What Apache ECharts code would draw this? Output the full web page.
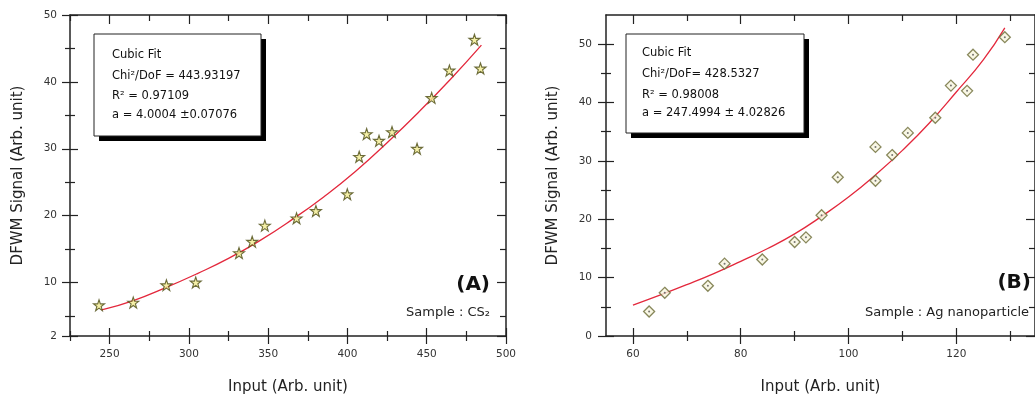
<!DOCTYPE html>
<html><head><meta charset="utf-8">
<script src="https://cdn.jsdelivr.net/npm/echarts@6/dist/echarts.min.js"></script>
<style>html,body{margin:0;padding:0;background:#fff}#c{width:1035px;height:405px}</style>
</head><body><div id="c"></div>
<script>
// ---- Panel A (CS2) ----
const xA = [243.3, 264.9, 285.8, 304.3, 331.6, 339.9, 347.9, 367.9, 380.1, 399.9, 407.4, 412.1, 419.9, 428.1, 443.9, 453.1, 464.3, 480.1, 483.9];
const yA = [6.6, 7.0, 9.6, 10.0, 14.4, 16.1, 18.5, 19.6, 20.7, 23.2, 28.8, 32.2, 31.2, 32.5, 30.0, 37.6, 41.7, 46.3, 42.0];
const fitAx = [245, 265, 285, 305, 325, 345, 365, 385, 405, 425, 445, 465, 484.5];
const fitAy = [5.9, 7.3, 9.2, 11.3, 13.6, 16.3, 19.4, 22.8, 26.6, 30.9, 35.5, 40.4, 45.5];
const xTicksA = [250, 300, 350, 400, 450, 500];
const xMinorA = [225, 275, 325, 375, 425, 475];
const yTicksA = [2, 10, 20, 30, 40, 50];
const yMinorA = [5, 15, 25, 35, 45];
const legendA = ['Cubic Fit', 'Chi²/DoF = 443.93197', 'R² = 0.97109', 'a = 4.0004 ±0.07076'];

// ---- Panel B (Ag nanoparticle) ----
const xB = [63.0, 65.9, 73.9, 77.0, 84.0, 90.0, 92.1, 95.0, 98.0, 105.0, 105.0, 108.1, 111.0, 116.1, 119.0, 122.0, 123.1, 129.0];
const yB = [4.2, 7.4, 8.6, 12.4, 13.1, 16.1, 16.9, 20.7, 27.2, 32.4, 26.6, 31.0, 34.8, 37.4, 42.9, 42.0, 48.2, 51.2];
const fitBx = [60, 65, 70, 75, 80, 85, 90, 95, 100, 105, 110, 115, 120, 125, 129];
const fitBy = [5.3, 7.0, 8.8, 10.7, 12.8, 15.0, 17.5, 20.5, 23.8, 27.6, 31.8, 36.5, 41.8, 47.3, 52.8];
const xTicksB = [60, 80, 100, 120];
const xMinorB = [70, 90, 110, 130];
const yTicksB = [0, 10, 20, 30, 40, 50];
const yMinorB = [5, 15, 25, 35, 45];
const legendB = ['Cubic Fit', 'Chi²/DoF= 428.5327', 'R² = 0.98008', 'a = 247.4994 ± 4.02826'];

const FONT = 'DejaVu Sans';
const AX = '#222';
const STAR = 'path://M50,2 L61.5,36 L97,36 L68.5,57.5 L79,92 L50,71 L21,92 L31.5,57.5 L3,36 L38.5,36 Z';

function base(grid, pos, min, max) {
  return {type: 'value', gridIndex: grid, position: pos, min: min, max: max,
    splitLine: {show: false}, axisLine: {show: false, onZero: false},
    axisLabel: {show: false}, axisTick: {show: false}};
}
function tickAx(grid, pos, min, max, vals, inside, len) {
  const a = base(grid, pos, min, max);
  a.axisTick = {show: true, inside: inside, length: len, customValues: vals, lineStyle: {color: AX, width: 1.2}};
  return a;
}
function mainAx(grid, pos, min, max, labels, name, gap, margin, rot) {
  const a = base(grid, pos, min, max);
  a.axisLine = {show: true, onZero: false, lineStyle: {color: AX, width: 1.5}};
  a.axisTick = {show: true, inside: false, length: 8, customValues: labels, lineStyle: {color: AX, width: 1.2}};
  a.axisLabel = {show: true, customValues: labels, margin: margin, color: '#333', fontFamily: FONT, fontSize: 10.5};
  a.name = name; a.nameLocation = 'middle'; a.nameGap = gap;
  a.nameTextStyle = {fontFamily: FONT, fontSize: 15, color: '#222'};
  if (rot) a.nameRotate = 90;
  return a;
}
function frameAx(grid, pos, min, max, majors, minors) {
  const a = tickAx(grid, pos, min, max, majors, true, 9);
  a.axisLine = {show: true, onZero: false, lineStyle: {color: AX, width: 1.5}};
  return [a, tickAx(grid, pos, min, max, minors, true, 6)];
}
function axesFor(grid, dim, min, max, majors, minors, name, gap, margin) {
  const p1 = dim === 'x' ? 'bottom' : 'left';
  const p2 = dim === 'x' ? 'top' : 'right';
  return [
    mainAx(grid, p1, min, max, majors, name, gap, margin, dim === 'y'),
    tickAx(grid, p1, min, max, majors, true, 8),
    tickAx(grid, p1, min, max, minors, false, 5),
    tickAx(grid, p1, min, max, minors, true, 5)
  ].concat(frameAx(grid, p2, min, max, majors, minors));
}

const xAxes = axesFor(0, 'x', 225, 500, xTicksA, xMinorA, 'Input (Arb. unit)', 44, 13)
  .concat(axesFor(1, 'x', 55, 134.6, xTicksB, xMinorB, 'Input (Arb. unit)', 44, 13));
const yAxes = axesFor(0, 'y', 2, 50, yTicksA, yMinorA, 'DFWM Signal (Arb. unit)', 44, 13)
  .concat(axesFor(1, 'y', 0, 55, yTicksB, yMinorB, 'DFWM Signal (Arb. unit)', 45, 14));
const B0 = 6; // first axis index of panel B

function pairs(xs, ys) { return xs.map((x, i) => [x, ys[i]]); }

function legendBox(x, y, w, h, lines, tx, ty) {
  const els = [
    {type: 'rect', shape: {x: x + 5, y: y + 5, width: w, height: h}, style: {fill: '#000'}, z: 10},
    {type: 'rect', shape: {x: x, y: y, width: w, height: h}, style: {fill: '#fff', stroke: '#222', lineWidth: 1}, z: 11}
  ];
  lines.forEach((t, i) => els.push({type: 'text', z: 12,
    style: {text: t, x: tx, y: ty[i], fill: '#111', font: '11.5px "' + FONT + '"', align: 'left', verticalAlign: 'middle'}}));
  return els;
}

const graphics = []
  .concat(legendBox(94, 34, 167, 102, legendA, 112, [55, 76, 96.5, 115]))
  .concat(legendBox(626, 34, 178, 99, legendB, 642, [53.5, 74, 95, 113]))
  .concat([
    {type: 'text', z: 12, style: {text: '(A)', x: 490, y: 285, fill: '#111', font: 'bold 20px "' + FONT + '"', align: 'right', verticalAlign: 'middle'}},
    {type: 'text', z: 12, style: {text: 'Sample : CS₂', x: 490, y: 313, fill: '#222', font: '13px "' + FONT + '"', align: 'right', verticalAlign: 'middle'}},
    {type: 'text', z: 12, style: {text: '(B)', x: 1031, y: 283, fill: '#111', font: 'bold 20px "' + FONT + '"', align: 'right', verticalAlign: 'middle'}},
    {type: 'text', z: 12, style: {text: 'Sample : Ag nanoparticle', x: 1029, y: 313, fill: '#222', font: '13px "' + FONT + '"', align: 'right', verticalAlign: 'middle'}}
  ]);

const option = {
  animation: false,
  backgroundColor: '#fff',
  grid: [
    {left: 70, top: 15, width: 436, height: 321},
    {left: 606, top: 15, width: 434, height: 321}
  ],
  xAxis: xAxes,
  yAxis: yAxes,
  graphic: graphics,
  series: [
    {type: 'line', xAxisIndex: 0, yAxisIndex: 0, data: pairs(fitAx, fitAy), smooth: true, showSymbol: false,
      lineStyle: {color: '#e3283c', width: 1.3}, z: 3},
    {type: 'scatter', xAxisIndex: 0, yAxisIndex: 0, data: pairs(xA, yA), symbol: STAR, symbolSize: 11,
      itemStyle: {color: '#f2ec92', borderColor: '#4a4a12', borderWidth: 1.1}, z: 4},
    {type: 'line', xAxisIndex: B0, yAxisIndex: B0, data: pairs(fitBx, fitBy), smooth: true, showSymbol: false,
      lineStyle: {color: '#e3283c', width: 1.3}, z: 3},
    {type: 'scatter', xAxisIndex: B0, yAxisIndex: B0, data: pairs(xB, yB), symbol: 'diamond', symbolSize: 11,
      itemStyle: {color: '#f7f5de', borderColor: '#6a6a34', borderWidth: 1.3}, z: 4},
    {type: 'scatter', xAxisIndex: B0, yAxisIndex: B0, data: pairs(xB, yB), symbol: 'circle', symbolSize: 2,
      itemStyle: {color: '#555'}, z: 5, silent: true}
  ]
};
const chart = echarts.init(document.getElementById('c'), null, {renderer: 'canvas'});
chart.setOption(option);
</script></body></html>
